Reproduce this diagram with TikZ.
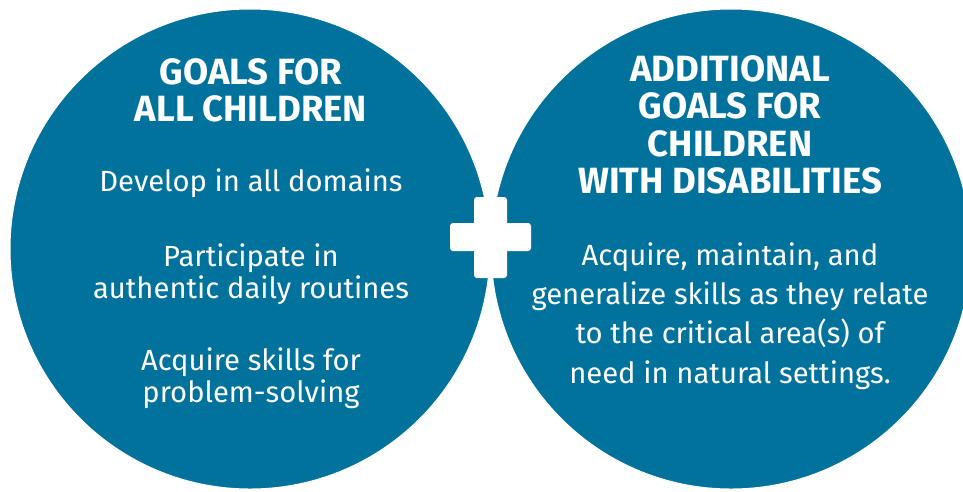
\documentclass[tikz,border=0pt]{standalone}
\usepackage{fontspec}
\setmainfont{Fira Sans}
\definecolor{teal}{RGB}{0,114,155}
\begin{document}
\begin{tikzpicture}[x=1pt,y=-1pt,
  disc/.style={circle,fill=teal,draw=white,line width=1pt,minimum size=480pt,inner sep=0pt},
  head/.style={text=white,anchor=base,inner sep=0pt,font=\fontsize{36.5}{36.5}\selectfont\bfseries},
  body/.style={text=white,anchor=base,inner sep=0pt,font=\fontsize{29.2}{29.2}\selectfont},
  bar/.style={fill=white,rounded corners=3pt}]
\useasboundingbox (0,0) rectangle (963,491);
\node[disc] (L) at (250,249) {};
\node[disc] (R) at (731,249) {};
% plus sign
\path[bar] (474,197) rectangle (507,278);
\path[bar] (450,223) rectangle (531,251);
% left texts
\node[head] (lh1) at (251,84) {GOALS FOR};
\node[head] (lh2) at (251,121) {ALL CHILDREN};
\node[body] (lb1) at (251,191) {Develop in all domains};
\node[body] (lb2) at (251,266) {Participate in};
\node[body] (lb3) at (251,298) {authentic daily routines};
\node[body] (lb4) at (251,370) {Acquire skills for};
\node[body] (lb5) at (251,402) {problem-solving};
% right texts
\node[head] (rh1) at (730,81) {ADDITIONAL};
\node[head] (rh2) at (730,118) {GOALS FOR};
\node[head] (rh3) at (730,156) {CHILDREN};
\node[head] (rh4) at (730,193) {WITH DISABILITIES};
\node[body] (rb1) at (730,265) {Acquire, maintain, and};
\node[body] (rb2) at (730,304) {generalize skills as they relate};
\node[body] (rb3) at (730,343) {to the critical area(s) of};
\node[body] (rb4) at (730,383) {need in natural settings.};
\end{tikzpicture}
\end{document}
